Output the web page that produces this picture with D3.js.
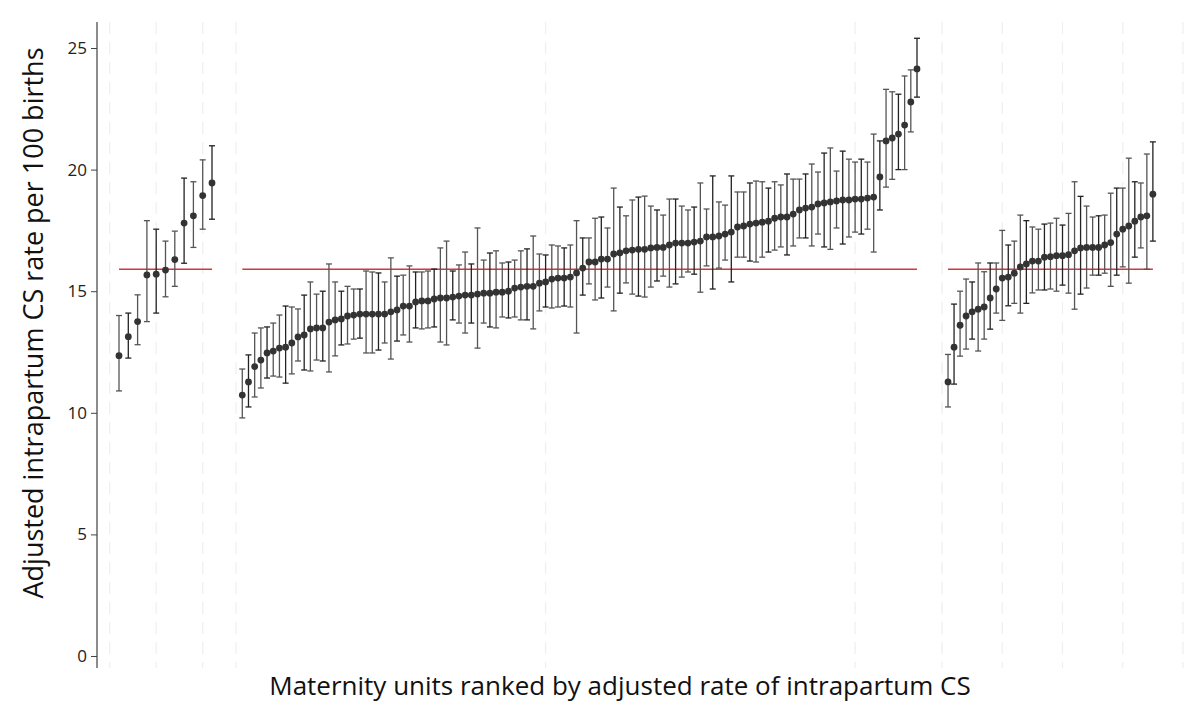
<!DOCTYPE html>
<html>
<head>
<meta charset="utf-8">
<script src="https://cdn.jsdelivr.net/npm/d3@7"></script>
<style>
  body { margin: 0; background: #fff; }
  text { font-family: "Open Sans", "DejaVu Sans", sans-serif; }
</style>
</head>
<body>
<svg width="1200" height="712"></svg>
<script>
// adjusted rate, lower CI, upper CI for each unit, one set per panel
const leftRate = [12.35, 13.13, 13.75, 15.67, 15.7, 15.87, 16.3, 17.8, 18.1, 18.93, 19.45];
const leftLow  = [10.9, 12.25, 12.8, 13.75, 14.1, 14.77, 15.2, 16.15, 16.8, 17.55, 17.96];
const leftHigh = [14.0, 14.1, 14.85, 17.9, 17.55, 17.06, 17.47, 19.65, 19.5, 20.4, 20.98];

const midRate = [10.73, 11.27, 11.9, 12.17, 12.46, 12.54, 12.66, 12.7, 12.87, 13.12, 13.2, 13.45, 13.49, 13.49, 13.73, 13.82, 13.86, 13.98, 14.02, 14.06,
  14.06, 14.06, 14.06, 14.06, 14.15, 14.23, 14.39, 14.39, 14.56, 14.6, 14.6, 14.68, 14.72, 14.72, 14.76, 14.8, 14.84, 14.84, 14.88, 14.92,
  14.92, 14.96, 14.96, 15.0, 15.13, 15.17, 15.2, 15.2, 15.33, 15.38, 15.5, 15.54, 15.54, 15.58, 15.75, 15.95, 16.2, 16.2, 16.32, 16.32,
  16.53, 16.57, 16.66, 16.69, 16.72, 16.72, 16.78, 16.8, 16.8, 16.9, 16.98, 16.98, 16.98, 17.02, 17.06, 17.23, 17.23, 17.27, 17.35, 17.43,
  17.64, 17.68, 17.76, 17.8, 17.84, 17.88, 18.0, 18.05, 18.05, 18.17, 18.34, 18.42, 18.46, 18.59, 18.63, 18.67, 18.71, 18.75, 18.75, 18.79,
  18.79, 18.83, 18.87, 19.7, 21.18, 21.3, 21.46, 21.83, 22.78, 24.14];
const midLow = [9.79, 10.24, 10.65, 11.02, 11.43, 11.51, 11.47, 11.22, 11.6, 12.13, 11.76, 11.72, 12.17, 12.13, 11.68, 12.34, 12.79, 12.83, 13.03, 13.07,
  12.46, 12.46, 12.58, 12.87, 12.21, 12.95, 13.2, 12.91, 13.49, 13.45, 13.49, 13.53, 12.91, 12.79, 13.82, 13.69, 13.28, 13.69, 12.66, 13.69,
  13.53, 13.49, 13.94, 13.9, 13.94, 13.82, 13.82, 13.45, 14.19, 14.35, 14.31, 14.35, 14.39, 14.35, 13.28, 14.84, 15.3, 14.64, 14.72, 15.17,
  14.19, 14.92, 15.34, 14.88, 14.8, 14.76, 15.17, 15.42, 15.62, 15.17, 15.3, 15.58, 15.79, 15.7, 14.96, 16.04, 15.09, 15.95, 16.28, 15.38,
  16.4, 16.4, 16.24, 16.2, 16.4, 16.61, 16.69, 16.82, 16.49, 16.86, 17.19, 17.19, 16.86, 17.35, 16.82, 16.72, 17.6, 16.94, 17.23, 17.43,
  17.35, 17.55, 16.61, 18.34, 19.28, 19.6, 20.0, 20.0, 21.55, 22.98];
const midHigh = [11.8, 12.38, 13.28, 13.49, 13.53, 13.69, 14.02, 14.39, 14.35, 14.27, 14.84, 15.38, 14.88, 15.0, 16.12, 15.38, 15.0, 15.2, 15.09, 15.09,
  15.83, 15.79, 15.75, 15.38, 16.37, 15.62, 15.66, 16.04, 15.79, 15.79, 15.83, 15.91, 16.78, 17.06, 15.83, 16.08, 16.61, 16.12, 17.6, 16.28,
  16.57, 16.66, 16.16, 16.2, 16.28, 16.66, 16.74, 17.27, 16.53, 16.49, 16.9, 16.86, 16.78, 16.9, 17.9, 17.19, 17.19, 18.0, 18.05, 17.6,
  19.24, 18.46, 18.1, 18.75, 18.87, 18.91, 18.5, 18.34, 18.13, 18.79, 18.79, 18.5, 18.34, 18.46, 19.45, 18.38, 19.74, 18.67, 18.54, 19.74,
  19.08, 19.08, 19.45, 19.53, 19.5, 19.24, 19.5, 19.37, 19.82, 19.61, 19.61, 19.82, 20.23, 19.9, 20.68, 20.89, 19.94, 20.76, 20.43, 20.31,
  20.43, 20.31, 21.46, 21.18, 23.3, 23.2, 23.1, 23.85, 24.1, 25.4];

const rightRate = [11.27, 12.7, 13.6, 13.98, 14.15, 14.26, 14.35, 14.72, 15.09, 15.54, 15.58, 15.74, 16.0, 16.12, 16.24, 16.24, 16.4, 16.42, 16.46, 16.46,
  16.5, 16.66, 16.78, 16.8, 16.8, 16.8, 16.9, 17.0, 17.35, 17.55, 17.68, 17.88, 18.05, 18.1, 18.99];
const rightLow = [10.24, 11.18, 12.33, 12.62, 13.03, 12.54, 13.03, 13.44, 14.1, 13.8, 14.4, 14.5, 14.1, 14.5, 14.93, 15.05, 15.05, 15.09, 15.0, 15.25,
  14.92, 14.26, 14.88, 15.13, 15.66, 15.66, 15.74, 15.2, 15.66, 16.0, 15.33, 16.4, 16.78, 15.9, 17.06];
const rightHigh = [12.4, 14.47, 15.0, 15.5, 15.38, 16.16, 15.8, 16.16, 16.16, 17.5, 16.9, 17.06, 18.13, 17.9, 17.64, 17.55, 17.76, 17.8, 18.0, 17.72,
  18.2, 19.5, 18.9, 18.5, 18.05, 18.1, 18.13, 19.03, 19.24, 19.24, 20.47, 19.5, 19.45, 20.64, 21.14];

const nationalRate = 15.9;
const yTicks = [0, 5, 10, 15, 20, 25];

const svg = d3.select("svg");

const y = d3.scaleLinear().domain([0, 25]).range([656, 48]);

// each panel has its own x scale (unit rank -> pixel)
const panels = [
  { rate: leftRate, low: leftLow, high: leftHigh,
    x: d3.scaleLinear().domain([0, 10]).range([109.7, 202.7]), grid: [0, 5, 10] },
  { rate: midRate, low: midLow, high: midHigh,
    x: d3.scaleLinear().domain([0, 100]).range([236.1, 855.1]), grid: [0, 50, 100] },
  { rate: rightRate, low: rightLow, high: rightHigh,
    x: d3.scaleLinear().domain([0, 10]).range([942, 1002.25]), grid: [0, 10, 20, 30, 40] }
];

// dashed vertical gridlines
panels.forEach(p => {
  svg.selectAll(null).data(p.grid).enter().append("line")
    .attr("x1", d => p.x(d)).attr("x2", d => p.x(d))
    .attr("y1", 22).attr("y2", 668)
    .attr("stroke", "#efefef").attr("stroke-width", 1.2)
    .attr("stroke-dasharray", "12,8");
});

// y axis
const yAxis = d3.axisLeft(y).tickValues(yTicks).tickSize(6).tickPadding(4);
const ax = svg.append("g").attr("transform", "translate(97,0)").call(yAxis);
ax.select(".domain").attr("d", "M0,22V668").attr("stroke", "#666").attr("stroke-width", 1.5);
ax.selectAll(".tick line").attr("stroke", "#444");
ax.selectAll(".tick text").attr("font-size", 17).attr("fill", "#222")
  .attr("font-family", "'Open Sans', sans-serif");

panels.forEach(p => {
  const n = p.rate.length;
  // national average line
  svg.append("line")
    .attr("x1", p.x(1)).attr("x2", p.x(n))
    .attr("y1", y(nationalRate)).attr("y2", y(nationalRate))
    .attr("stroke", "#d0393f").attr("stroke-width", 1.6);

  const g = svg.append("g");
  p.rate.forEach((r, i) => {
    const cx = p.x(i + 1);
    const col = i % 3 === 1 ? "#222" : "#555";
    g.append("line").attr("x1", cx).attr("x2", cx)
      .attr("y1", y(p.low[i])).attr("y2", y(p.high[i]))
      .attr("stroke", col).attr("stroke-width", 1.3);
    [p.low[i], p.high[i]].forEach(v => {
      g.append("line").attr("x1", cx - 3).attr("x2", cx + 3)
        .attr("y1", y(v)).attr("y2", y(v))
        .attr("stroke", col).attr("stroke-width", 1.3);
    });
    g.append("circle").attr("cx", cx).attr("cy", y(r)).attr("r", 3.4).attr("fill", "#333");
  });
});

// axis titles
svg.append("text")
  .attr("transform", "translate(43,323) rotate(-90)")
  .attr("text-anchor", "middle").attr("font-size", 27).attr("fill", "#111")
  .text("Adjusted intrapartum CS rate per 100 births");

svg.append("text")
  .attr("x", 620).attr("y", 695)
  .attr("text-anchor", "middle").attr("font-size", 26).attr("fill", "#111")
  .text("Maternity units ranked by adjusted rate of intrapartum CS");
</script>
</body>
</html>
